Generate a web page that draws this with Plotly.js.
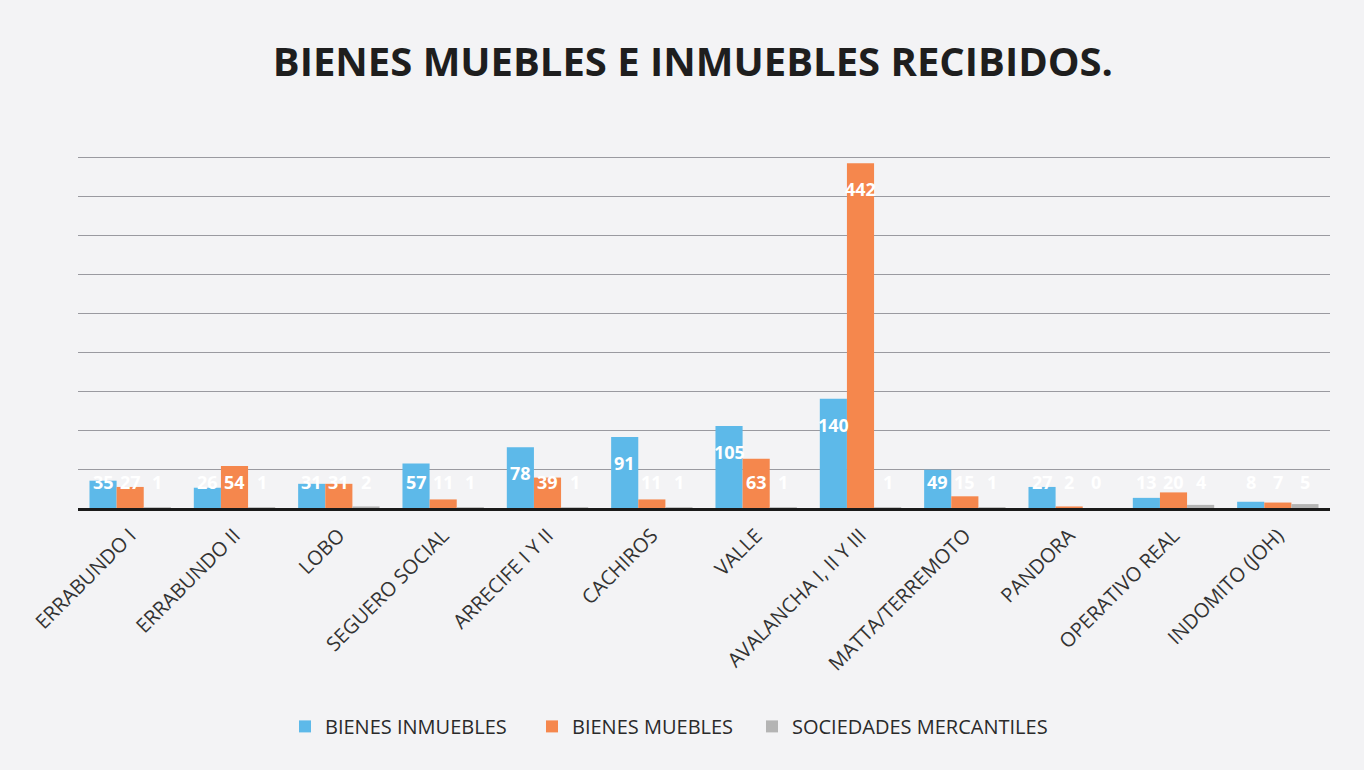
<!DOCTYPE html>
<html>
<head>
<meta charset="utf-8">
<script src="https://cdn.plot.ly/plotly-3.0.1.min.js"></script>
<style>html,body{margin:0;padding:0;background:#f3f3f5;}#chart{width:1364px;height:770px;}</style>
</head>
<body>
<div id="chart"></div>
<script>
var categories = ["ERRABUNDO I","ERRABUNDO II","LOBO","SEGUERO SOCIAL","ARRECIFE I Y II","CACHIROS","VALLE","AVALANCHA I, II Y III","MATTA/TERREMOTO","PANDORA","OPERATIVO REAL","INDOMITO (JOH)"];
var bienesInmuebles = [35, 26, 31, 57, 78, 91, 105, 140, 49, 27, 13, 8];
var bienesMuebles = [27, 54, 31, 11, 39, 11, 63, 442, 15, 2, 20, 7];
var sociedadesMercantiles = [1, 1, 2, 1, 1, 1, 1, 1, 1, 0, 4, 5];
var seriesNames = ["BIENES INMUEBLES", "BIENES MUEBLES", "SOCIEDADES MERCANTILES"];
var seriesColors = ["#5db9e9", "#f5874d", "#b4b4b4"];
var allSeries = [bienesInmuebles, bienesMuebles, sociedadesMercantiles];

var W = 1364, H = 770, M = {l: 78, r: 34, t: 118, b: 262};
var bargap = 0.22;
var plotW = W - M.l - M.r, plotH = H - M.t - M.b;
var yMax = 500;
var pxPerUnit = plotH / yMax;
var barPx = plotW / categories.length * (1 - bargap) / allSeries.length;
var legendIds = ["legend", "legend2", "legend3"];
var legendLeftPx = [285, 532, 752];

var data = allSeries.map(function(vals, i){
  return {type: "bar", x: categories, y: vals, name: seriesNames[i], legend: legendIds[i],
          marker: {color: seriesColors[i]}, hoverinfo: "skip"};
});

var annotations = [];
allSeries.forEach(function(vals, i){
  vals.forEach(function(v, j){
    var tall = v * pxPerUnit > 52;
    annotations.push({
      xref: "x", yref: "y", x: categories[j], y: tall ? v : 0,
      yshift: tall ? -26 : 26, xshift: (i - 1) * barPx,
      text: "<b>" + v + "</b>", showarrow: false, xanchor: "center", yanchor: "middle",
      font: {family: "Open Sans, sans-serif", size: 18, color: "#ffffff"}
    });
  });
});

var layout = {
  width: W, height: H,
  paper_bgcolor: "#f3f3f5", plot_bgcolor: "#f3f3f5",
  margin: M,
  title: {text: "<b>BIENES MUEBLES E INMUEBLES RECIBIDOS.</b>", x: 0.508, xanchor: "center", y: 0.92, yanchor: "middle",
          font: {family: "Open Sans, sans-serif", size: 40, color: "#1e1e1e"}},
  barmode: "group", bargap: bargap, bargroupgap: 0,
  xaxis: {type: "category", tickangle: -45, showline: true, linecolor: "#1a1a1a", linewidth: 3,
          ticks: "", ticklabelstandoff: 5, tickfont: {family: "Open Sans, sans-serif", size: 20, color: "#333333"}, automargin: false},
  yaxis: {range: [0, yMax], dtick: 50, showgrid: true, gridcolor: "#9a9aa0", gridwidth: 1,
          showticklabels: false, zeroline: false, ticks: ""},
  annotations: annotations,
  showlegend: true,
  font: {family: "Open Sans, sans-serif"}
};
legendIds.forEach(function(id, i){
  layout[id] = {orientation: "h", x: (legendLeftPx[i] - M.l) / plotW, xanchor: "left", y: -0.56, yanchor: "middle",
                font: {family: "Open Sans, sans-serif", size: 20, color: "#2a2a2a"}, itemwidth: 30,
                bgcolor: "rgba(0,0,0,0)"};
});
Plotly.newPlot("chart", data, layout, {displayModeBar: false, staticPlot: true});
</script>
</body>
</html>
